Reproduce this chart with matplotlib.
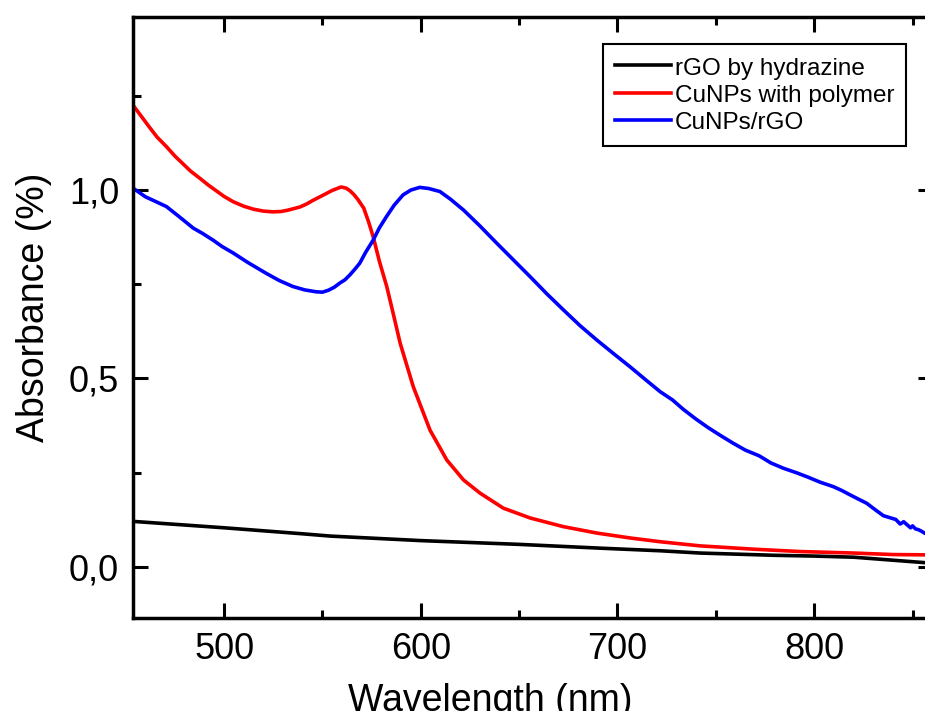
import matplotlib
matplotlib.use("Agg")
import matplotlib.pyplot as plt
from matplotlib.ticker import MultipleLocator, FuncFormatter

plt.rcParams['font.family'] = ['Liberation Sans', 'DejaVu Sans']

# rGO by hydrazine
wl_black = [453.7, 500, 540, 554, 600, 650, 691, 722, 742, 780, 800, 820, 835, 850, 860]
ab_black = [0.121, 0.104, 0.088, 0.082, 0.070, 0.060, 0.050, 0.043, 0.037, 0.031, 0.029, 0.026, 0.020, 0.014, 0.010]

# CuNPs with polymer
wl_red = [453.7, 458, 462, 466, 470.7, 475, 479, 483, 487.7, 492, 496, 500, 504.6, 510, 515, 520, 524.9,
          529, 532, 535, 538.6, 542, 545, 548, 551, 555, 559.5,
          562, 564, 566, 568, 571, 573.5, 575.8, 579, 582.7, 586, 589.5, 596.2, 604.7, 613.2, 621.7, 630.1,
          642, 655.6, 672.5, 689.5, 706.4, 721.7, 742, 770, 792.8, 820, 840, 860]
ab_red = [1.225, 1.195, 1.167, 1.14, 1.115, 1.09, 1.07, 1.05, 1.031, 1.013, 0.998, 0.983, 0.969, 0.957, 0.949, 0.944, 0.942,
          0.943, 0.946, 0.95, 0.955, 0.963, 0.972, 0.98, 0.988, 0.999, 1.008,
          1.005, 0.998, 0.988, 0.975, 0.952, 0.915, 0.876, 0.81, 0.744, 0.672, 0.594, 0.478, 0.363, 0.284, 0.231, 0.196,
          0.156, 0.130, 0.107, 0.090, 0.077, 0.067, 0.056, 0.047, 0.041, 0.037, 0.033, 0.032]

# CuNPs/rGO
wl_blue = [453.7, 460, 465, 470.7, 477, 484.3, 489, 494.4, 499, 504.6, 512, 521.4, 528, 535, 541, 546.8, 550, 553,
           556, 558.8, 561.5, 564, 566.5, 569, 572, 575.8, 579, 582.5, 586.5,
           591, 595, 599.5, 604, 609.7, 615, 621.7, 630, 638.6, 647, 655.6, 664, 672.5, 681, 689.5, 698, 706.4,
           714, 721.7, 728, 733.5, 740, 746, 752, 758.9, 765, 772,
           778, 784.3, 791, 797, 803, 809.8, 814, 818, 822.5, 826.7, 831, 835.2, 839, 841.5, 843.7, 845.5, 847,
           849, 850, 851.5, 853, 854.5, 856.4, 858, 860]
ab_blue = [1.005, 0.982, 0.97, 0.956, 0.93, 0.899, 0.885, 0.867, 0.85, 0.833, 0.808, 0.779, 0.76, 0.744, 0.735, 0.730, 0.729, 0.734,
           0.742, 0.753, 0.762, 0.775, 0.79, 0.806, 0.835, 0.867, 0.9, 0.929, 0.96,
           0.987, 1.0, 1.007, 1.004, 0.996, 0.976, 0.947, 0.905, 0.859, 0.815, 0.770, 0.725, 0.682, 0.64, 0.602, 0.566, 0.531,
           0.498, 0.465, 0.443, 0.418, 0.392, 0.370, 0.35, 0.328, 0.31, 0.295,
           0.276, 0.262, 0.25, 0.238, 0.225, 0.213, 0.203, 0.192, 0.18, 0.169, 0.152, 0.136, 0.13, 0.126, 0.114, 0.12, 0.113,
           0.104, 0.109, 0.101, 0.099, 0.095, 0.089, 0.09, 0.087]

labels = ["rGO by hydrazine", "CuNPs with polymer", "CuNPs/rGO"]

fig = plt.figure(figsize=(9.25, 7.11), dpi=100)
ax = fig.add_axes([133/925, 93/711, 800/925, 601/711])

lw = 2.6
ax.plot(wl_black, ab_black, color='black', lw=lw, label=labels[0])
ax.plot(wl_red, ab_red, color='#ff0000', lw=lw, label=labels[1])
ax.plot(wl_blue, ab_blue, color='#0000ff', lw=lw, label=labels[2])

ax.set_xlim(453.7, 860.4)
ax.set_ylim(-0.1353, 1.4589)

ax.xaxis.set_major_locator(MultipleLocator(100))
ax.xaxis.set_minor_locator(MultipleLocator(50))
ax.yaxis.set_major_locator(MultipleLocator(0.5))
ax.yaxis.set_minor_locator(MultipleLocator(0.25))
ax.yaxis.set_major_formatter(FuncFormatter(lambda v, p: f"{v:.1f}".replace('.', ',')))

for s in ax.spines.values():
    s.set_linewidth(2.5)
ax.tick_params(which='both', direction='in', top=True, right=True, width=2.2, labelsize=26, pad=10)
ax.tick_params(which='major', length=11)
ax.tick_params(which='minor', length=6)

ax.set_xlabel("Wavelength (nm)", fontsize=27)
ax.set_ylabel("Absorbance (%)", fontsize=27)
ax.xaxis.set_label_coords(0.446, -0.108)
ax.yaxis.set_label_coords(-0.101, 0.517)

leg = ax.legend(loc='upper left', bbox_to_anchor=(0.5875, 0.955), borderaxespad=0,
                fancybox=False, edgecolor='black', framealpha=1, fontsize=17.5,
                handlelength=2.3, handletextpad=0.15, labelspacing=0.15, handleheight=0.9,
                borderpad=0.5)
leg.get_frame().set_linewidth(1.5)

fig.savefig("out.png", dpi=100)
